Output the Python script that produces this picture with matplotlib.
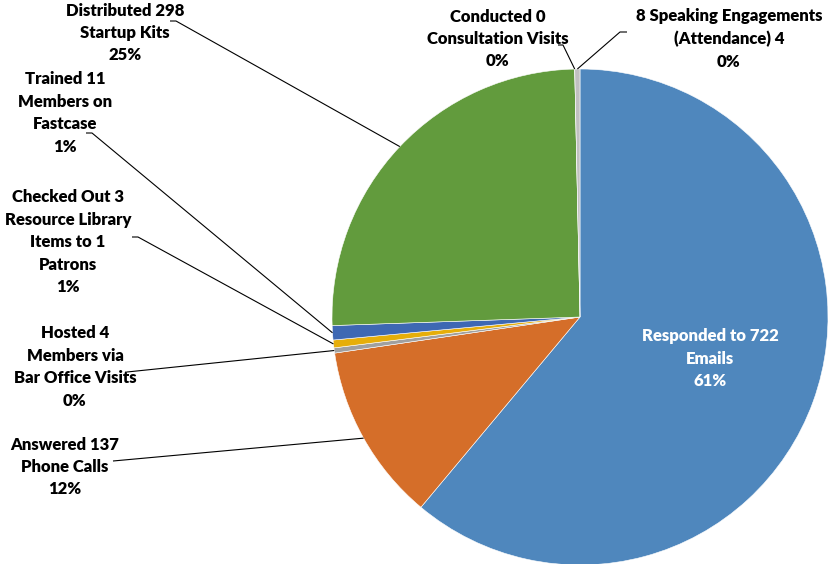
import numpy as np
import matplotlib
matplotlib.use("Agg")
from matplotlib import pyplot as plt

# Activity counts, in clockwise order starting at 12 o'clock
categories = [
    "Responded to 722\nEmails",
    "Answered 137\nPhone Calls",
    "Hosted 4\nMembers via\nBar Office Visits",
    "Checked Out 3\nResource Library\nItems to 1\nPatrons",
    "Trained 11\nMembers on\nFastcase",
    "Distributed 298\nStartup Kits",
    "Conducted 0\nConsultation Visits",
    "8 Speaking Engagements\n(Attendance) 4",
]
values = [722, 137, 4, 6, 11, 298, 0, 4]
colors = ["#4F87BD", "#D56E29", "#A0A0A0", "#E6AE0A", "#3E68B3",
          "#629B3D", "#8C8C8C", "#C0C0C0"]

# Label layout in pixel units (x, y from top-left): text centre, leader start, tick end
label_pos = [(710, 359), (65, 467), (75, 367), (68, 242), (65, 113),
             (125, 33), (498, 39), (729, 39)]
leader_start = [None, (113, 461), (127, 372), (132, 237), (86, 133),
                (170, 21), (558, 45), (627, 32)]
leader_tick = [None, None, None, (138, 237), (92, 133),
               (176, 21), (563, 45), (620, 32)]

W, H = 833, 564
cx, cy, radius = 580, 317, 248

fig = plt.figure(figsize=(W / 100, H / 100), dpi=100)
ax = fig.add_axes([0, 0, 1, 1])

ax.pie(values, colors=colors, startangle=90, counterclock=False,
       center=(cx, H - cy), radius=radius,
       wedgeprops=dict(edgecolor="white", linewidth=0.4))
ax.set_xlim(0, W)
ax.set_ylim(0, H)
ax.set_aspect("equal")
ax.axis("off")

total = sum(values)
cum = np.cumsum([0] + values[:-1])
font = ["Lato", "DejaVu Sans"]

for i, (cat, val) in enumerate(zip(categories, values)):
    pct = f"{100 * val / total:.0f}%"
    tx, ty = label_pos[i]
    color = "white" if i == 0 else "black"
    ax.text(tx, H - ty, f"{cat}\n{pct}", ha="center", va="center",
            fontsize=12, fontweight="heavy", color=color, family=font,
            linespacing=1.5)
    if leader_start[i] is None:
        continue
    # point on the rim at the middle of the wedge
    mid = 2 * np.pi * (cum[i] + val / 2) / total
    ex = cx + radius * np.sin(mid)
    ey = H - (cy - radius * np.cos(mid))
    pts = [leader_start[i]]
    if leader_tick[i] is not None:
        pts.append(leader_tick[i])
    xs = [p[0] for p in pts] + [ex]
    ys = [H - p[1] for p in pts] + [ey]
    ax.plot(xs, ys, color="black", linewidth=0.8, solid_capstyle="butt")

fig.savefig("out.png", dpi=100)
